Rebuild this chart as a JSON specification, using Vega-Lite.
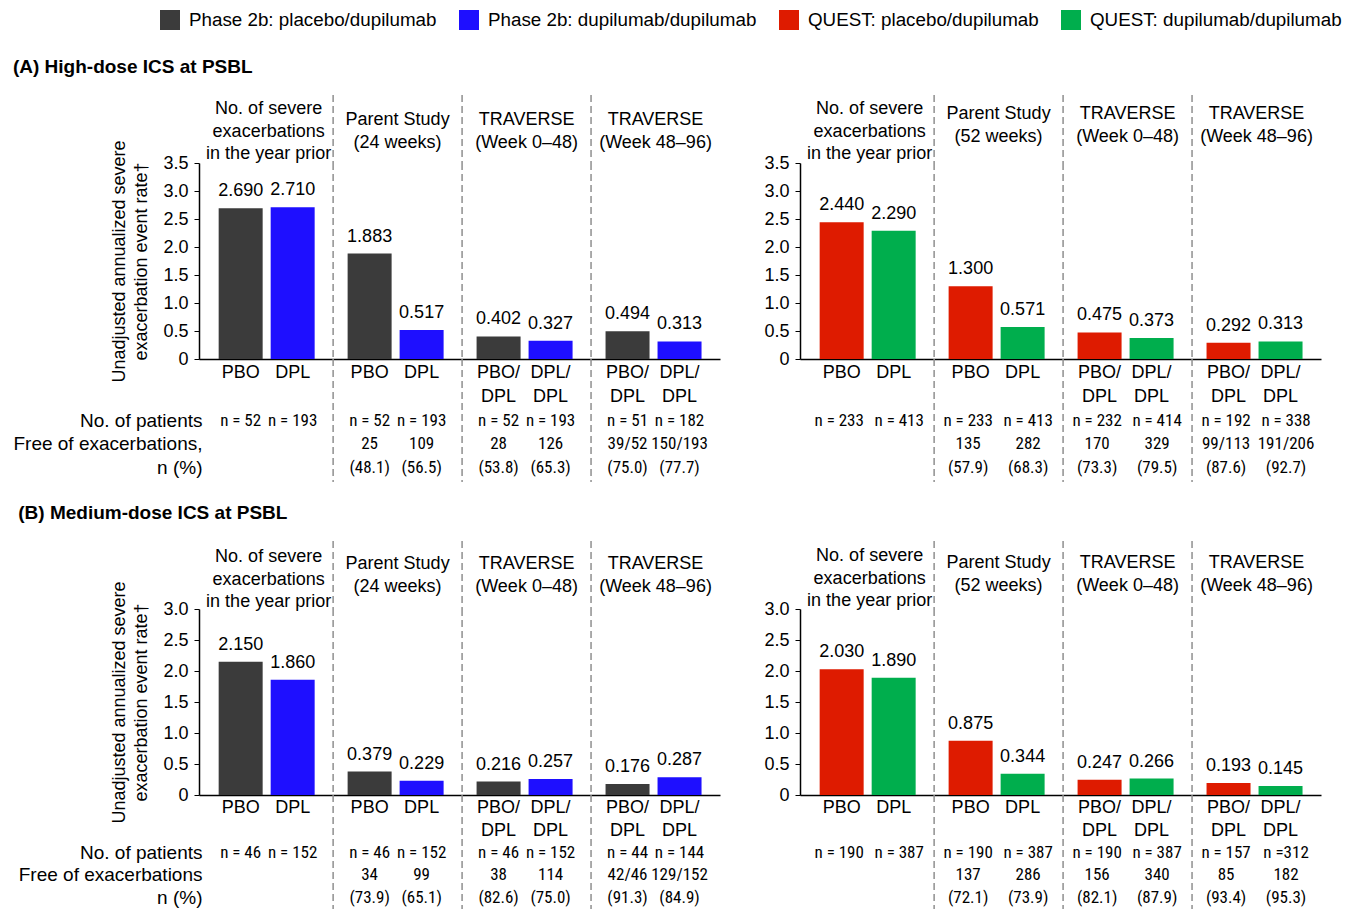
{
  "$schema": "https://vega.github.io/schema/vega-lite/v6.json",
  "background": "white",
  "padding": {"left": 12, "top": 10, "right": 5, "bottom": 0},
  "config": {
    "font": "Liberation Sans",
    "view": {"stroke": null},
    "text": {"font": "Liberation Sans", "fontSize": 18, "color": "#000"},
    "axis": {"labelFont": "Liberation Sans", "titleFont": "Liberation Sans", "labelColor": "#000", "titleColor": "#000", "grid": false, "labelOverlap": false},
    "legend": {"labelFont": "Liberation Sans", "labelColor": "#000"},
    "title": {"font": "Liberation Sans", "color": "#000"}
  },
  "datasets": {
    "rates": [
      {"section": "A", "side": "L", "series": "Phase 2b: placebo/dupilumab", "phase": "prior", "period": "No. of severe\nexacerbations\nin the year prior", "arm": "PBO", "lab1": "PBO", "lab2": "", "rate": 2.690, "nLabel": "n = 52", "freeN": "", "freePct": ""},
      {"section": "A", "side": "L", "series": "Phase 2b: dupilumab/dupilumab", "phase": "prior", "period": "No. of severe\nexacerbations\nin the year prior", "arm": "DPL", "lab1": "DPL", "lab2": "", "rate": 2.710, "nLabel": "n = 193", "freeN": "", "freePct": ""},
      {"section": "A", "side": "L", "series": "Phase 2b: placebo/dupilumab", "phase": "parent", "period": "Parent Study\n(24 weeks)", "arm": "PBO", "lab1": "PBO", "lab2": "", "rate": 1.883, "nLabel": "n = 52", "freeN": "25", "freePct": "(48.1)"},
      {"section": "A", "side": "L", "series": "Phase 2b: dupilumab/dupilumab", "phase": "parent", "period": "Parent Study\n(24 weeks)", "arm": "DPL", "lab1": "DPL", "lab2": "", "rate": 0.517, "nLabel": "n = 193", "freeN": "109", "freePct": "(56.5)"},
      {"section": "A", "side": "L", "series": "Phase 2b: placebo/dupilumab", "phase": "trav1", "period": "TRAVERSE\n(Week 0–48)", "arm": "PBO", "lab1": "PBO/", "lab2": "DPL", "rate": 0.402, "nLabel": "n = 52", "freeN": "28", "freePct": "(53.8)"},
      {"section": "A", "side": "L", "series": "Phase 2b: dupilumab/dupilumab", "phase": "trav1", "period": "TRAVERSE\n(Week 0–48)", "arm": "DPL", "lab1": "DPL/", "lab2": "DPL", "rate": 0.327, "nLabel": "n = 193", "freeN": "126", "freePct": "(65.3)"},
      {"section": "A", "side": "L", "series": "Phase 2b: placebo/dupilumab", "phase": "trav2", "period": "TRAVERSE\n(Week 48–96)", "arm": "PBO", "lab1": "PBO/", "lab2": "DPL", "rate": 0.494, "nLabel": "n = 51", "freeN": "39/52", "freePct": "(75.0)"},
      {"section": "A", "side": "L", "series": "Phase 2b: dupilumab/dupilumab", "phase": "trav2", "period": "TRAVERSE\n(Week 48–96)", "arm": "DPL", "lab1": "DPL/", "lab2": "DPL", "rate": 0.313, "nLabel": "n = 182", "freeN": "150/193", "freePct": "(77.7)"},

      {"section": "A", "side": "R", "series": "QUEST: placebo/dupilumab", "phase": "prior", "period": "No. of severe\nexacerbations\nin the year prior", "arm": "PBO", "lab1": "PBO", "lab2": "", "rate": 2.440, "nLabel": "n = 233", "freeN": "", "freePct": ""},
      {"section": "A", "side": "R", "series": "QUEST: dupilumab/dupilumab", "phase": "prior", "period": "No. of severe\nexacerbations\nin the year prior", "arm": "DPL", "lab1": "DPL", "lab2": "", "rate": 2.290, "nLabel": "n = 413", "freeN": "", "freePct": ""},
      {"section": "A", "side": "R", "series": "QUEST: placebo/dupilumab", "phase": "parent", "period": "Parent Study\n(52 weeks)", "arm": "PBO", "lab1": "PBO", "lab2": "", "rate": 1.300, "nLabel": "n = 233", "freeN": "135", "freePct": "(57.9)"},
      {"section": "A", "side": "R", "series": "QUEST: dupilumab/dupilumab", "phase": "parent", "period": "Parent Study\n(52 weeks)", "arm": "DPL", "lab1": "DPL", "lab2": "", "rate": 0.571, "nLabel": "n = 413", "freeN": "282", "freePct": "(68.3)"},
      {"section": "A", "side": "R", "series": "QUEST: placebo/dupilumab", "phase": "trav1", "period": "TRAVERSE\n(Week 0–48)", "arm": "PBO", "lab1": "PBO/", "lab2": "DPL", "rate": 0.475, "nLabel": "n = 232", "freeN": "170", "freePct": "(73.3)"},
      {"section": "A", "side": "R", "series": "QUEST: dupilumab/dupilumab", "phase": "trav1", "period": "TRAVERSE\n(Week 0–48)", "arm": "DPL", "lab1": "DPL/", "lab2": "DPL", "rate": 0.373, "nLabel": "n = 414", "freeN": "329", "freePct": "(79.5)"},
      {"section": "A", "side": "R", "series": "QUEST: placebo/dupilumab", "phase": "trav2", "period": "TRAVERSE\n(Week 48–96)", "arm": "PBO", "lab1": "PBO/", "lab2": "DPL", "rate": 0.292, "nLabel": "n = 192", "freeN": "99/113", "freePct": "(87.6)"},
      {"section": "A", "side": "R", "series": "QUEST: dupilumab/dupilumab", "phase": "trav2", "period": "TRAVERSE\n(Week 48–96)", "arm": "DPL", "lab1": "DPL/", "lab2": "DPL", "rate": 0.313, "nLabel": "n = 338", "freeN": "191/206", "freePct": "(92.7)"},

      {"section": "B", "side": "L", "series": "Phase 2b: placebo/dupilumab", "phase": "prior", "period": "No. of severe\nexacerbations\nin the year prior", "arm": "PBO", "lab1": "PBO", "lab2": "", "rate": 2.150, "nLabel": "n = 46", "freeN": "", "freePct": ""},
      {"section": "B", "side": "L", "series": "Phase 2b: dupilumab/dupilumab", "phase": "prior", "period": "No. of severe\nexacerbations\nin the year prior", "arm": "DPL", "lab1": "DPL", "lab2": "", "rate": 1.860, "nLabel": "n = 152", "freeN": "", "freePct": ""},
      {"section": "B", "side": "L", "series": "Phase 2b: placebo/dupilumab", "phase": "parent", "period": "Parent Study\n(24 weeks)", "arm": "PBO", "lab1": "PBO", "lab2": "", "rate": 0.379, "nLabel": "n = 46", "freeN": "34", "freePct": "(73.9)"},
      {"section": "B", "side": "L", "series": "Phase 2b: dupilumab/dupilumab", "phase": "parent", "period": "Parent Study\n(24 weeks)", "arm": "DPL", "lab1": "DPL", "lab2": "", "rate": 0.229, "nLabel": "n = 152", "freeN": "99", "freePct": "(65.1)"},
      {"section": "B", "side": "L", "series": "Phase 2b: placebo/dupilumab", "phase": "trav1", "period": "TRAVERSE\n(Week 0–48)", "arm": "PBO", "lab1": "PBO/", "lab2": "DPL", "rate": 0.216, "nLabel": "n = 46", "freeN": "38", "freePct": "(82.6)"},
      {"section": "B", "side": "L", "series": "Phase 2b: dupilumab/dupilumab", "phase": "trav1", "period": "TRAVERSE\n(Week 0–48)", "arm": "DPL", "lab1": "DPL/", "lab2": "DPL", "rate": 0.257, "nLabel": "n = 152", "freeN": "114", "freePct": "(75.0)"},
      {"section": "B", "side": "L", "series": "Phase 2b: placebo/dupilumab", "phase": "trav2", "period": "TRAVERSE\n(Week 48–96)", "arm": "PBO", "lab1": "PBO/", "lab2": "DPL", "rate": 0.176, "nLabel": "n = 44", "freeN": "42/46", "freePct": "(91.3)"},
      {"section": "B", "side": "L", "series": "Phase 2b: dupilumab/dupilumab", "phase": "trav2", "period": "TRAVERSE\n(Week 48–96)", "arm": "DPL", "lab1": "DPL/", "lab2": "DPL", "rate": 0.287, "nLabel": "n = 144", "freeN": "129/152", "freePct": "(84.9)"},

      {"section": "B", "side": "R", "series": "QUEST: placebo/dupilumab", "phase": "prior", "period": "No. of severe\nexacerbations\nin the year prior", "arm": "PBO", "lab1": "PBO", "lab2": "", "rate": 2.030, "nLabel": "n = 190", "freeN": "", "freePct": ""},
      {"section": "B", "side": "R", "series": "QUEST: dupilumab/dupilumab", "phase": "prior", "period": "No. of severe\nexacerbations\nin the year prior", "arm": "DPL", "lab1": "DPL", "lab2": "", "rate": 1.890, "nLabel": "n = 387", "freeN": "", "freePct": ""},
      {"section": "B", "side": "R", "series": "QUEST: placebo/dupilumab", "phase": "parent", "period": "Parent Study\n(52 weeks)", "arm": "PBO", "lab1": "PBO", "lab2": "", "rate": 0.875, "nLabel": "n = 190", "freeN": "137", "freePct": "(72.1)"},
      {"section": "B", "side": "R", "series": "QUEST: dupilumab/dupilumab", "phase": "parent", "period": "Parent Study\n(52 weeks)", "arm": "DPL", "lab1": "DPL", "lab2": "", "rate": 0.344, "nLabel": "n = 387", "freeN": "286", "freePct": "(73.9)"},
      {"section": "B", "side": "R", "series": "QUEST: placebo/dupilumab", "phase": "trav1", "period": "TRAVERSE\n(Week 0–48)", "arm": "PBO", "lab1": "PBO/", "lab2": "DPL", "rate": 0.247, "nLabel": "n = 190", "freeN": "156", "freePct": "(82.1)"},
      {"section": "B", "side": "R", "series": "QUEST: dupilumab/dupilumab", "phase": "trav1", "period": "TRAVERSE\n(Week 0–48)", "arm": "DPL", "lab1": "DPL/", "lab2": "DPL", "rate": 0.266, "nLabel": "n = 387", "freeN": "340", "freePct": "(87.9)"},
      {"section": "B", "side": "R", "series": "QUEST: placebo/dupilumab", "phase": "trav2", "period": "TRAVERSE\n(Week 48–96)", "arm": "PBO", "lab1": "PBO/", "lab2": "DPL", "rate": 0.193, "nLabel": "n = 157", "freeN": "85", "freePct": "(93.4)"},
      {"section": "B", "side": "R", "series": "QUEST: dupilumab/dupilumab", "phase": "trav2", "period": "TRAVERSE\n(Week 48–96)", "arm": "DPL", "lab1": "DPL/", "lab2": "DPL", "rate": 0.145, "nLabel": "n =312", "freeN": "182", "freePct": "(95.3)"}
    ]
  },
  "spacing": 21,
  "resolve": {"scale": {"xOffset": "independent"}},
  "vconcat": [
    {
      "title": {"text": "(A) High-dose ICS at PSBL", "anchor": "start", "fontSize": 19, "fontWeight": "bold", "offset": 17},
      "spacing": 43,
      "resolve": {"scale": {"xOffset": "independent"}},
      "hconcat": [
        {
          "bounds": "flush",
          "spacing": 0,
          "resolve": {"scale": {"xOffset": "independent"}},
          "vconcat": [
            {
              "width": 521, "height": 68,
              "data": {"name": "rates"},
              "transform": [{"filter": "datum.section == 'A' && datum.side == 'L' && datum.arm == 'PBO'"}],
              "encoding": {"x": {"field": "phase", "type": "nominal", "scale": {"type": "band", "domain": ["prior", "parent", "trav1", "trav2"], "paddingInner": 0, "paddingOuter": 0.02, "align": 1}, "axis": null}},
              "layer": [
                {"transform": [{"filter": "datum.phase != 'prior'"}],
                 "mark": {"type": "rule", "color": "#8f8f8f", "strokeWidth": 1.5, "strokeDash": [7, 4]},
                 "encoding": {"x": {"field": "phase", "type": "nominal", "bandPosition": 0, "scale": {"type": "band", "domain": ["prior", "parent", "trav1", "trav2"], "paddingInner": 0, "paddingOuter": 0.02, "align": 1}, "axis": null}}},
                {"transform": [{"filter": "datum.phase == 'prior'"}],
                 "mark": {"type": "text", "lineBreak": "\n", "lineHeight": 22.5, "baseline": "middle", "fontSize": 18, "dy": -20},
                 "encoding": {"text": {"field": "period"}}},
                {"transform": [{"filter": "datum.phase != 'prior'"}],
                 "mark": {"type": "text", "lineBreak": "\n", "lineHeight": 22.5, "baseline": "middle", "fontSize": 18, "dy": -9},
                 "encoding": {"text": {"field": "period"}}}
              ]
            },
            {
              "width": 521, "height": 196,
              "data": {"name": "rates"},
              "transform": [{"filter": "datum.section == 'A' && datum.side == 'L'"}],
              "layer": [
                {"transform": [{"filter": "datum.phase != 'prior' && datum.arm == 'PBO'"}],
                 "mark": {"type": "rule", "color": "#8f8f8f", "strokeWidth": 1.5, "strokeDash": [7, 4]},
                 "encoding": {"x": {"field": "phase", "type": "nominal", "bandPosition": 0, "scale": {"type": "band", "domain": ["prior", "parent", "trav1", "trav2"], "paddingInner": 0, "paddingOuter": 0.02, "align": 1}, "axis": {"title": null, "labels": false, "ticks": false, "domainColor": "#000", "domainWidth": 1.5}}}},
                {"mark": {"type": "bar"},
                 "encoding": {
                   "x": {"field": "phase", "type": "nominal", "scale": {"type": "band", "domain": ["prior", "parent", "trav1", "trav2"], "paddingInner": 0, "paddingOuter": 0.02, "align": 1}, "axis": {"title": null, "labels": false, "ticks": false, "domainColor": "#000", "domainWidth": 1.5}},
                   "xOffset": {"field": "arm", "type": "nominal", "scale": {"type": "band", "domain": ["PBO", "DPL"], "paddingInner": 0.154, "paddingOuter": 0.317, "align": 0.44}},
                   "y": {"field": "rate", "type": "quantitative", "scale": {"domain": [0, 3.5], "nice": false},
                         "axis": {"values": [0, 0.5, 1, 1.5, 2, 2.5, 3, 3.5], "labelOverlap": false, "labelExpr": "datum.value == 0 ? '0' : format(datum.value, '.1f')", "labelFontSize": 18, "labelPadding": 6, "tickSize": 5, "tickColor": "#000", "domainColor": "#000", "domainWidth": 1.5,
                                  "title": ["Unadjusted annualized severe", "exacerbation event rate†"], "titleFontSize": 18, "titleFontWeight": "normal", "titlePadding": 12, "titleLineHeight": 22}},
                   "color": {"field": "series", "type": "nominal",
                             "scale": {"domain": ["Phase 2b: placebo/dupilumab", "Phase 2b: dupilumab/dupilumab", "QUEST: placebo/dupilumab", "QUEST: dupilumab/dupilumab"], "range": ["#3b3b3b", "#1e0fff", "#de1b00", "#00ae4d"]},
                             "legend": {"orient": "none", "legendX": -39, "legendY": -85, "direction": "horizontal", "title": null, "symbolType": "square", "symbolSize": 400, "symbolStrokeWidth": 0, "symbolOpacity": 1, "labelFontSize": 18.8, "labelOffset": 9, "columnPadding": 22, "labelLimit": 400}}
                 }},
                {"mark": {"type": "text", "dy": -12, "baseline": "alphabetic", "fontSize": 18},
                 "encoding": {
                   "x": {"field": "phase", "type": "nominal", "scale": {"type": "band", "domain": ["prior", "parent", "trav1", "trav2"], "paddingInner": 0, "paddingOuter": 0.02, "align": 1}, "axis": {"title": null, "labels": false, "ticks": false, "domainColor": "#000", "domainWidth": 1.5}},
                   "xOffset": {"field": "arm", "type": "nominal", "scale": {"type": "band", "domain": ["PBO", "DPL"], "paddingInner": 0.154, "paddingOuter": 0.317, "align": 0.44}},
                   "y": {"field": "rate", "type": "quantitative", "scale": {"domain": [0, 3.5], "nice": false},
                         "axis": {"values": [0, 0.5, 1, 1.5, 2, 2.5, 3, 3.5], "labelOverlap": false, "labelExpr": "datum.value == 0 ? '0' : format(datum.value, '.1f')", "labelFontSize": 18, "labelPadding": 6, "tickSize": 5, "tickColor": "#000", "domainColor": "#000", "domainWidth": 1.5,
                                  "title": ["Unadjusted annualized severe", "exacerbation event rate†"], "titleFontSize": 18, "titleFontWeight": "normal", "titlePadding": 12, "titleLineHeight": 22}},
                   "text": {"field": "rate", "type": "quantitative", "format": ".3f"}
                 }}
              ]
            },
            {
              "width": 521, "height": 123,
              "data": {"name": "rates"},
              "transform": [{"filter": "datum.section == 'A' && datum.side == 'L'"}],
              "layer": [
                {"transform": [{"filter": "datum.phase != 'prior' && datum.arm == 'PBO'"}],
                 "mark": {"type": "rule", "color": "#8f8f8f", "strokeWidth": 1.5, "strokeDash": [7, 4]},
                 "encoding": {"x": {"field": "phase", "type": "nominal", "bandPosition": 0, "scale": {"type": "band", "domain": ["prior", "parent", "trav1", "trav2"], "paddingInner": 0, "paddingOuter": 0.02, "align": 1}, "axis": null}}},
                {"transform": [{"fold": ["lab1", "lab2"], "as": ["row", "text"]}],
                 "mark": {"type": "text", "fontSize": 18, "baseline": "middle"},
                 "encoding": {
                   "x": {"field": "phase", "type": "nominal", "scale": {"type": "band", "domain": ["prior", "parent", "trav1", "trav2"], "paddingInner": 0, "paddingOuter": 0.02, "align": 1}, "axis": null},
                   "xOffset": {"field": "arm", "type": "nominal", "scale": {"type": "band", "domain": ["PBO", "DPL"], "paddingInner": 0.154, "paddingOuter": 0.317, "align": 0.44}},
                   "y": {"field": "row", "type": "nominal", "scale": {"type": "band", "domain": ["lab1", "lab2", "nLabel", "freeN", "freePct"], "paddingInner": 0, "paddingOuter": 0.08},
                         "axis": {"title": null, "domain": false, "ticks": false, "labelPadding": -3, "labelLimit": 400, "labelFontSize": 19, "labelExpr": "datum.value == 'nLabel' ? 'No. of patients' : datum.value == 'freeN' ? 'Free of exacerbations,' : datum.value == 'freePct' ? 'n (%)' : ''"}},
                   "text": {"field": "text"}
                 }},
                {"transform": [{"fold": ["nLabel", "freeN", "freePct"], "as": ["row", "text"]}],
                 "mark": {"type": "text", "font": "Roboto Condensed, Liberation Sans Narrow, Arial Narrow, Liberation Sans", "fontSize": 17, "baseline": "middle"},
                 "encoding": {
                   "x": {"field": "phase", "type": "nominal", "scale": {"type": "band", "domain": ["prior", "parent", "trav1", "trav2"], "paddingInner": 0, "paddingOuter": 0.02, "align": 1}, "axis": null},
                   "xOffset": {"field": "arm", "type": "nominal", "scale": {"type": "band", "domain": ["PBO", "DPL"], "paddingInner": 0.154, "paddingOuter": 0.317, "align": 0.44}},
                   "y": {"field": "row", "type": "nominal", "scale": {"type": "band", "domain": ["lab1", "lab2", "nLabel", "freeN", "freePct"], "paddingInner": 0, "paddingOuter": 0.08},
                         "axis": {"title": null, "domain": false, "ticks": false, "labelPadding": -3, "labelLimit": 400, "labelFontSize": 19, "labelExpr": "datum.value == 'nLabel' ? 'No. of patients' : datum.value == 'freeN' ? 'Free of exacerbations,' : datum.value == 'freePct' ? 'n (%)' : ''"}},
                   "text": {"field": "text"}
                 }}
              ]
            }
          ]
        },
        {
          "bounds": "flush",
          "spacing": 0,
          "resolve": {"scale": {"xOffset": "independent"}},
          "vconcat": [
            {
              "width": 521, "height": 68,
              "data": {"name": "rates"},
              "transform": [{"filter": "datum.section == 'A' && datum.side == 'R' && datum.arm == 'PBO'"}],
              "encoding": {"x": {"field": "phase", "type": "nominal", "scale": {"type": "band", "domain": ["prior", "parent", "trav1", "trav2"], "paddingInner": 0, "paddingOuter": 0.02, "align": 1}, "axis": null}},
              "layer": [
                {"transform": [{"filter": "datum.phase != 'prior'"}],
                 "mark": {"type": "rule", "color": "#8f8f8f", "strokeWidth": 1.5, "strokeDash": [7, 4]},
                 "encoding": {"x": {"field": "phase", "type": "nominal", "bandPosition": 0, "scale": {"type": "band", "domain": ["prior", "parent", "trav1", "trav2"], "paddingInner": 0, "paddingOuter": 0.02, "align": 1}, "axis": null}}},
                {"transform": [{"filter": "datum.phase == 'prior'"}],
                 "mark": {"type": "text", "lineBreak": "\n", "lineHeight": 22.5, "baseline": "middle", "fontSize": 18, "dy": -20},
                 "encoding": {"text": {"field": "period"}}},
                {"transform": [{"filter": "datum.phase != 'prior'"}],
                 "mark": {"type": "text", "lineBreak": "\n", "lineHeight": 22.5, "baseline": "middle", "fontSize": 18, "dy": -15},
                 "encoding": {"text": {"field": "period"}}}
              ]
            },
            {
              "width": 521, "height": 196,
              "data": {"name": "rates"},
              "transform": [{"filter": "datum.section == 'A' && datum.side == 'R'"}],
              "layer": [
                {"transform": [{"filter": "datum.phase != 'prior' && datum.arm == 'PBO'"}],
                 "mark": {"type": "rule", "color": "#8f8f8f", "strokeWidth": 1.5, "strokeDash": [7, 4]},
                 "encoding": {"x": {"field": "phase", "type": "nominal", "bandPosition": 0, "scale": {"type": "band", "domain": ["prior", "parent", "trav1", "trav2"], "paddingInner": 0, "paddingOuter": 0.02, "align": 1}, "axis": {"title": null, "labels": false, "ticks": false, "domainColor": "#000", "domainWidth": 1.5}}}},
                {"mark": {"type": "bar"},
                 "encoding": {
                   "x": {"field": "phase", "type": "nominal", "scale": {"type": "band", "domain": ["prior", "parent", "trav1", "trav2"], "paddingInner": 0, "paddingOuter": 0.02, "align": 1}, "axis": {"title": null, "labels": false, "ticks": false, "domainColor": "#000", "domainWidth": 1.5}},
                   "xOffset": {"field": "arm", "type": "nominal", "scale": {"type": "band", "domain": ["PBO", "DPL"], "paddingInner": 0.154, "paddingOuter": 0.317, "align": 0.44}},
                   "y": {"field": "rate", "type": "quantitative", "scale": {"domain": [0, 3.5], "nice": false},
                         "axis": {"values": [0, 0.5, 1, 1.5, 2, 2.5, 3, 3.5], "labelOverlap": false, "labelExpr": "datum.value == 0 ? '0' : format(datum.value, '.1f')", "labelFontSize": 18, "labelPadding": 6, "tickSize": 5, "tickColor": "#000", "domainColor": "#000", "domainWidth": 1.5, "title": null}},
                   "color": {"field": "series", "type": "nominal",
                             "scale": {"domain": ["Phase 2b: placebo/dupilumab", "Phase 2b: dupilumab/dupilumab", "QUEST: placebo/dupilumab", "QUEST: dupilumab/dupilumab"], "range": ["#3b3b3b", "#1e0fff", "#de1b00", "#00ae4d"]},
                             "legend": {"orient": "none", "legendX": -39, "legendY": -85, "direction": "horizontal", "title": null, "symbolType": "square", "symbolSize": 400, "symbolStrokeWidth": 0, "symbolOpacity": 1, "labelFontSize": 18.8, "labelOffset": 9, "columnPadding": 22, "labelLimit": 400}}
                 }},
                {"mark": {"type": "text", "dy": -12, "baseline": "alphabetic", "fontSize": 18},
                 "encoding": {
                   "x": {"field": "phase", "type": "nominal", "scale": {"type": "band", "domain": ["prior", "parent", "trav1", "trav2"], "paddingInner": 0, "paddingOuter": 0.02, "align": 1}, "axis": {"title": null, "labels": false, "ticks": false, "domainColor": "#000", "domainWidth": 1.5}},
                   "xOffset": {"field": "arm", "type": "nominal", "scale": {"type": "band", "domain": ["PBO", "DPL"], "paddingInner": 0.154, "paddingOuter": 0.317, "align": 0.44}},
                   "y": {"field": "rate", "type": "quantitative", "scale": {"domain": [0, 3.5], "nice": false},
                         "axis": {"values": [0, 0.5, 1, 1.5, 2, 2.5, 3, 3.5], "labelOverlap": false, "labelExpr": "datum.value == 0 ? '0' : format(datum.value, '.1f')", "labelFontSize": 18, "labelPadding": 6, "tickSize": 5, "tickColor": "#000", "domainColor": "#000", "domainWidth": 1.5, "title": null}},
                   "text": {"field": "rate", "type": "quantitative", "format": ".3f"}
                 }}
              ]
            },
            {
              "width": 521, "height": 123,
              "data": {"name": "rates"},
              "transform": [{"filter": "datum.section == 'A' && datum.side == 'R'"}],
              "resolve": {"scale": {"xOffset": "independent"}},
              "layer": [
                {"transform": [{"filter": "datum.phase != 'prior' && datum.arm == 'PBO'"}],
                 "mark": {"type": "rule", "color": "#8f8f8f", "strokeWidth": 1.5, "strokeDash": [7, 4]},
                 "encoding": {"x": {"field": "phase", "type": "nominal", "bandPosition": 0, "scale": {"type": "band", "domain": ["prior", "parent", "trav1", "trav2"], "paddingInner": 0, "paddingOuter": 0.02, "align": 1}, "axis": null}}},
                {"transform": [{"fold": ["lab1", "lab2"], "as": ["row", "text"]}],
                 "mark": {"type": "text", "fontSize": 18, "baseline": "middle"},
                 "encoding": {
                   "x": {"field": "phase", "type": "nominal", "scale": {"type": "band", "domain": ["prior", "parent", "trav1", "trav2"], "paddingInner": 0, "paddingOuter": 0.02, "align": 1}, "axis": null},
                   "xOffset": {"field": "arm", "type": "nominal", "scale": {"type": "band", "domain": ["PBO", "DPL"], "paddingInner": 0.154, "paddingOuter": 0.317, "align": 0.44}},
                   "y": {"field": "row", "type": "nominal", "scale": {"type": "band", "domain": ["lab1", "lab2", "nLabel", "freeN", "freePct"], "paddingInner": 0, "paddingOuter": 0.08}, "axis": null},
                   "text": {"field": "text"}
                 }},
                {"transform": [{"fold": ["nLabel", "freeN", "freePct"], "as": ["row", "text"]}],
                 "mark": {"type": "text", "font": "Roboto Condensed, Liberation Sans Narrow, Arial Narrow, Liberation Sans", "fontSize": 17, "baseline": "middle"},
                 "encoding": {
                   "x": {"field": "phase", "type": "nominal", "scale": {"type": "band", "domain": ["prior", "parent", "trav1", "trav2"], "paddingInner": 0, "paddingOuter": 0.02, "align": 1}, "axis": null},
                   "xOffset": {"field": "arm", "type": "nominal", "scale": {"type": "band", "domain": ["PBO", "DPL"], "paddingInner": 0, "paddingOuter": 0.075, "align": 0.45}},
                   "y": {"field": "row", "type": "nominal", "scale": {"type": "band", "domain": ["lab1", "lab2", "nLabel", "freeN", "freePct"], "paddingInner": 0, "paddingOuter": 0.08}, "axis": null},
                   "text": {"field": "text"}
                 }}
              ]
            }
          ]
        }
      ]
    },
    {
      "title": {"text": "(B) Medium-dose ICS at PSBL", "anchor": "start", "fontSize": 19, "fontWeight": "bold", "offset": 17},
      "spacing": 43,
      "resolve": {"scale": {"xOffset": "independent"}},
      "hconcat": [
        {
          "bounds": "flush",
          "spacing": 0,
          "resolve": {"scale": {"xOffset": "independent"}},
          "vconcat": [
            {
              "width": 521, "height": 68,
              "data": {"name": "rates"},
              "transform": [{"filter": "datum.section == 'B' && datum.side == 'L' && datum.arm == 'PBO'"}],
              "encoding": {"x": {"field": "phase", "type": "nominal", "scale": {"type": "band", "domain": ["prior", "parent", "trav1", "trav2"], "paddingInner": 0, "paddingOuter": 0.02, "align": 1}, "axis": null}},
              "layer": [
                {"transform": [{"filter": "datum.phase != 'prior'"}],
                 "mark": {"type": "rule", "color": "#8f8f8f", "strokeWidth": 1.5, "strokeDash": [7, 4]},
                 "encoding": {"x": {"field": "phase", "type": "nominal", "bandPosition": 0, "scale": {"type": "band", "domain": ["prior", "parent", "trav1", "trav2"], "paddingInner": 0, "paddingOuter": 0.02, "align": 1}, "axis": null}}},
                {"transform": [{"filter": "datum.phase == 'prior'"}],
                 "mark": {"type": "text", "lineBreak": "\n", "lineHeight": 22.5, "baseline": "middle", "fontSize": 18, "dy": -18},
                 "encoding": {"text": {"field": "period"}}},
                {"transform": [{"filter": "datum.phase != 'prior'"}],
                 "mark": {"type": "text", "lineBreak": "\n", "lineHeight": 22.5, "baseline": "middle", "fontSize": 18, "dy": -11},
                 "encoding": {"text": {"field": "period"}}}
              ]
            },
            {
              "width": 521, "height": 186,
              "data": {"name": "rates"},
              "transform": [{"filter": "datum.section == 'B' && datum.side == 'L'"}],
              "layer": [
                {"transform": [{"filter": "datum.phase != 'prior' && datum.arm == 'PBO'"}],
                 "mark": {"type": "rule", "color": "#8f8f8f", "strokeWidth": 1.5, "strokeDash": [7, 4]},
                 "encoding": {"x": {"field": "phase", "type": "nominal", "bandPosition": 0, "scale": {"type": "band", "domain": ["prior", "parent", "trav1", "trav2"], "paddingInner": 0, "paddingOuter": 0.02, "align": 1}, "axis": {"title": null, "labels": false, "ticks": false, "domainColor": "#000", "domainWidth": 1.5}}}},
                {"mark": {"type": "bar"},
                 "encoding": {
                   "x": {"field": "phase", "type": "nominal", "scale": {"type": "band", "domain": ["prior", "parent", "trav1", "trav2"], "paddingInner": 0, "paddingOuter": 0.02, "align": 1}, "axis": {"title": null, "labels": false, "ticks": false, "domainColor": "#000", "domainWidth": 1.5}},
                   "xOffset": {"field": "arm", "type": "nominal", "scale": {"type": "band", "domain": ["PBO", "DPL"], "paddingInner": 0.154, "paddingOuter": 0.317, "align": 0.44}},
                   "y": {"field": "rate", "type": "quantitative", "scale": {"domain": [0, 3.0], "nice": false},
                         "axis": {"values": [0, 0.5, 1, 1.5, 2, 2.5, 3], "labelOverlap": false, "labelExpr": "datum.value == 0 ? '0' : format(datum.value, '.1f')", "labelFontSize": 18, "labelPadding": 6, "tickSize": 5, "tickColor": "#000", "domainColor": "#000", "domainWidth": 1.5,
                                  "title": ["Unadjusted annualized severe", "exacerbation event rate†"], "titleFontSize": 18, "titleFontWeight": "normal", "titlePadding": 12, "titleLineHeight": 22}},
                   "color": {"field": "series", "type": "nominal",
                             "scale": {"domain": ["Phase 2b: placebo/dupilumab", "Phase 2b: dupilumab/dupilumab", "QUEST: placebo/dupilumab", "QUEST: dupilumab/dupilumab"], "range": ["#3b3b3b", "#1e0fff", "#de1b00", "#00ae4d"]},
                             "legend": {"orient": "none", "legendX": -39, "legendY": -85, "direction": "horizontal", "title": null, "symbolType": "square", "symbolSize": 400, "symbolStrokeWidth": 0, "symbolOpacity": 1, "labelFontSize": 18.8, "labelOffset": 9, "columnPadding": 22, "labelLimit": 400}}
                 }},
                {"mark": {"type": "text", "dy": -12, "baseline": "alphabetic", "fontSize": 18},
                 "encoding": {
                   "x": {"field": "phase", "type": "nominal", "scale": {"type": "band", "domain": ["prior", "parent", "trav1", "trav2"], "paddingInner": 0, "paddingOuter": 0.02, "align": 1}, "axis": {"title": null, "labels": false, "ticks": false, "domainColor": "#000", "domainWidth": 1.5}},
                   "xOffset": {"field": "arm", "type": "nominal", "scale": {"type": "band", "domain": ["PBO", "DPL"], "paddingInner": 0.154, "paddingOuter": 0.317, "align": 0.44}},
                   "y": {"field": "rate", "type": "quantitative", "scale": {"domain": [0, 3.0], "nice": false},
                         "axis": {"values": [0, 0.5, 1, 1.5, 2, 2.5, 3], "labelOverlap": false, "labelExpr": "datum.value == 0 ? '0' : format(datum.value, '.1f')", "labelFontSize": 18, "labelPadding": 6, "tickSize": 5, "tickColor": "#000", "domainColor": "#000", "domainWidth": 1.5,
                                  "title": ["Unadjusted annualized severe", "exacerbation event rate†"], "titleFontSize": 18, "titleFontWeight": "normal", "titlePadding": 12, "titleLineHeight": 22}},
                   "text": {"field": "rate", "type": "quantitative", "format": ".3f"}
                 }}
              ]
            },
            {
              "width": 521, "height": 116,
              "data": {"name": "rates"},
              "transform": [{"filter": "datum.section == 'B' && datum.side == 'L'"}],
              "layer": [
                {"transform": [{"filter": "datum.phase != 'prior' && datum.arm == 'PBO'"}],
                 "mark": {"type": "rule", "color": "#8f8f8f", "strokeWidth": 1.5, "strokeDash": [7, 4]},
                 "encoding": {"x": {"field": "phase", "type": "nominal", "bandPosition": 0, "scale": {"type": "band", "domain": ["prior", "parent", "trav1", "trav2"], "paddingInner": 0, "paddingOuter": 0.02, "align": 1}, "axis": null}}},
                {"transform": [{"fold": ["lab1", "lab2"], "as": ["row", "text"]}],
                 "mark": {"type": "text", "fontSize": 18, "baseline": "middle"},
                 "encoding": {
                   "x": {"field": "phase", "type": "nominal", "scale": {"type": "band", "domain": ["prior", "parent", "trav1", "trav2"], "paddingInner": 0, "paddingOuter": 0.02, "align": 1}, "axis": null},
                   "xOffset": {"field": "arm", "type": "nominal", "scale": {"type": "band", "domain": ["PBO", "DPL"], "paddingInner": 0.154, "paddingOuter": 0.317, "align": 0.44}},
                   "y": {"field": "row", "type": "nominal", "scale": {"type": "band", "domain": ["lab1", "lab2", "nLabel", "freeN", "freePct"], "paddingInner": 0, "paddingOuter": 0.1},
                         "axis": {"title": null, "domain": false, "ticks": false, "labelPadding": -3, "labelLimit": 400, "labelFontSize": 19, "labelExpr": "datum.value == 'nLabel' ? 'No. of patients' : datum.value == 'freeN' ? 'Free of exacerbations' : datum.value == 'freePct' ? 'n (%)' : ''"}},
                   "text": {"field": "text"}
                 }},
                {"transform": [{"fold": ["nLabel", "freeN", "freePct"], "as": ["row", "text"]}],
                 "mark": {"type": "text", "font": "Roboto Condensed, Liberation Sans Narrow, Arial Narrow, Liberation Sans", "fontSize": 17, "baseline": "middle"},
                 "encoding": {
                   "x": {"field": "phase", "type": "nominal", "scale": {"type": "band", "domain": ["prior", "parent", "trav1", "trav2"], "paddingInner": 0, "paddingOuter": 0.02, "align": 1}, "axis": null},
                   "xOffset": {"field": "arm", "type": "nominal", "scale": {"type": "band", "domain": ["PBO", "DPL"], "paddingInner": 0.154, "paddingOuter": 0.317, "align": 0.44}},
                   "y": {"field": "row", "type": "nominal", "scale": {"type": "band", "domain": ["lab1", "lab2", "nLabel", "freeN", "freePct"], "paddingInner": 0, "paddingOuter": 0.1},
                         "axis": {"title": null, "domain": false, "ticks": false, "labelPadding": -3, "labelLimit": 400, "labelFontSize": 19, "labelExpr": "datum.value == 'nLabel' ? 'No. of patients' : datum.value == 'freeN' ? 'Free of exacerbations' : datum.value == 'freePct' ? 'n (%)' : ''"}},
                   "text": {"field": "text"}
                 }}
              ]
            }
          ]
        },
        {
          "bounds": "flush",
          "spacing": 0,
          "resolve": {"scale": {"xOffset": "independent"}},
          "vconcat": [
            {
              "width": 521, "height": 68,
              "data": {"name": "rates"},
              "transform": [{"filter": "datum.section == 'B' && datum.side == 'R' && datum.arm == 'PBO'"}],
              "encoding": {"x": {"field": "phase", "type": "nominal", "scale": {"type": "band", "domain": ["prior", "parent", "trav1", "trav2"], "paddingInner": 0, "paddingOuter": 0.02, "align": 1}, "axis": null}},
              "layer": [
                {"transform": [{"filter": "datum.phase != 'prior'"}],
                 "mark": {"type": "rule", "color": "#8f8f8f", "strokeWidth": 1.5, "strokeDash": [7, 4]},
                 "encoding": {"x": {"field": "phase", "type": "nominal", "bandPosition": 0, "scale": {"type": "band", "domain": ["prior", "parent", "trav1", "trav2"], "paddingInner": 0, "paddingOuter": 0.02, "align": 1}, "axis": null}}},
                {"transform": [{"filter": "datum.phase == 'prior'"}],
                 "mark": {"type": "text", "lineBreak": "\n", "lineHeight": 22.5, "baseline": "middle", "fontSize": 18, "dy": -19},
                 "encoding": {"text": {"field": "period"}}},
                {"transform": [{"filter": "datum.phase != 'prior'"}],
                 "mark": {"type": "text", "lineBreak": "\n", "lineHeight": 22.5, "baseline": "middle", "fontSize": 18, "dy": -12},
                 "encoding": {"text": {"field": "period"}}}
              ]
            },
            {
              "width": 521, "height": 186,
              "data": {"name": "rates"},
              "transform": [{"filter": "datum.section == 'B' && datum.side == 'R'"}],
              "layer": [
                {"transform": [{"filter": "datum.phase != 'prior' && datum.arm == 'PBO'"}],
                 "mark": {"type": "rule", "color": "#8f8f8f", "strokeWidth": 1.5, "strokeDash": [7, 4]},
                 "encoding": {"x": {"field": "phase", "type": "nominal", "bandPosition": 0, "scale": {"type": "band", "domain": ["prior", "parent", "trav1", "trav2"], "paddingInner": 0, "paddingOuter": 0.02, "align": 1}, "axis": {"title": null, "labels": false, "ticks": false, "domainColor": "#000", "domainWidth": 1.5}}}},
                {"mark": {"type": "bar"},
                 "encoding": {
                   "x": {"field": "phase", "type": "nominal", "scale": {"type": "band", "domain": ["prior", "parent", "trav1", "trav2"], "paddingInner": 0, "paddingOuter": 0.02, "align": 1}, "axis": {"title": null, "labels": false, "ticks": false, "domainColor": "#000", "domainWidth": 1.5}},
                   "xOffset": {"field": "arm", "type": "nominal", "scale": {"type": "band", "domain": ["PBO", "DPL"], "paddingInner": 0.154, "paddingOuter": 0.317, "align": 0.44}},
                   "y": {"field": "rate", "type": "quantitative", "scale": {"domain": [0, 3.0], "nice": false},
                         "axis": {"values": [0, 0.5, 1, 1.5, 2, 2.5, 3], "labelOverlap": false, "labelExpr": "datum.value == 0 ? '0' : format(datum.value, '.1f')", "labelFontSize": 18, "labelPadding": 6, "tickSize": 5, "tickColor": "#000", "domainColor": "#000", "domainWidth": 1.5, "title": null}},
                   "color": {"field": "series", "type": "nominal",
                             "scale": {"domain": ["Phase 2b: placebo/dupilumab", "Phase 2b: dupilumab/dupilumab", "QUEST: placebo/dupilumab", "QUEST: dupilumab/dupilumab"], "range": ["#3b3b3b", "#1e0fff", "#de1b00", "#00ae4d"]},
                             "legend": {"orient": "none", "legendX": -39, "legendY": -85, "direction": "horizontal", "title": null, "symbolType": "square", "symbolSize": 400, "symbolStrokeWidth": 0, "symbolOpacity": 1, "labelFontSize": 18.8, "labelOffset": 9, "columnPadding": 22, "labelLimit": 400}}
                 }},
                {"mark": {"type": "text", "dy": -12, "baseline": "alphabetic", "fontSize": 18},
                 "encoding": {
                   "x": {"field": "phase", "type": "nominal", "scale": {"type": "band", "domain": ["prior", "parent", "trav1", "trav2"], "paddingInner": 0, "paddingOuter": 0.02, "align": 1}, "axis": {"title": null, "labels": false, "ticks": false, "domainColor": "#000", "domainWidth": 1.5}},
                   "xOffset": {"field": "arm", "type": "nominal", "scale": {"type": "band", "domain": ["PBO", "DPL"], "paddingInner": 0.154, "paddingOuter": 0.317, "align": 0.44}},
                   "y": {"field": "rate", "type": "quantitative", "scale": {"domain": [0, 3.0], "nice": false},
                         "axis": {"values": [0, 0.5, 1, 1.5, 2, 2.5, 3], "labelOverlap": false, "labelExpr": "datum.value == 0 ? '0' : format(datum.value, '.1f')", "labelFontSize": 18, "labelPadding": 6, "tickSize": 5, "tickColor": "#000", "domainColor": "#000", "domainWidth": 1.5, "title": null}},
                   "text": {"field": "rate", "type": "quantitative", "format": ".3f"}
                 }}
              ]
            },
            {
              "width": 521, "height": 116,
              "data": {"name": "rates"},
              "transform": [{"filter": "datum.section == 'B' && datum.side == 'R'"}],
              "resolve": {"scale": {"xOffset": "independent"}},
              "layer": [
                {"transform": [{"filter": "datum.phase != 'prior' && datum.arm == 'PBO'"}],
                 "mark": {"type": "rule", "color": "#8f8f8f", "strokeWidth": 1.5, "strokeDash": [7, 4]},
                 "encoding": {"x": {"field": "phase", "type": "nominal", "bandPosition": 0, "scale": {"type": "band", "domain": ["prior", "parent", "trav1", "trav2"], "paddingInner": 0, "paddingOuter": 0.02, "align": 1}, "axis": null}}},
                {"transform": [{"fold": ["lab1", "lab2"], "as": ["row", "text"]}],
                 "mark": {"type": "text", "fontSize": 18, "baseline": "middle"},
                 "encoding": {
                   "x": {"field": "phase", "type": "nominal", "scale": {"type": "band", "domain": ["prior", "parent", "trav1", "trav2"], "paddingInner": 0, "paddingOuter": 0.02, "align": 1}, "axis": null},
                   "xOffset": {"field": "arm", "type": "nominal", "scale": {"type": "band", "domain": ["PBO", "DPL"], "paddingInner": 0.154, "paddingOuter": 0.317, "align": 0.44}},
                   "y": {"field": "row", "type": "nominal", "scale": {"type": "band", "domain": ["lab1", "lab2", "nLabel", "freeN", "freePct"], "paddingInner": 0, "paddingOuter": 0.1}, "axis": null},
                   "text": {"field": "text"}
                 }},
                {"transform": [{"fold": ["nLabel", "freeN", "freePct"], "as": ["row", "text"]}],
                 "mark": {"type": "text", "font": "Roboto Condensed, Liberation Sans Narrow, Arial Narrow, Liberation Sans", "fontSize": 17, "baseline": "middle"},
                 "encoding": {
                   "x": {"field": "phase", "type": "nominal", "scale": {"type": "band", "domain": ["prior", "parent", "trav1", "trav2"], "paddingInner": 0, "paddingOuter": 0.02, "align": 1}, "axis": null},
                   "xOffset": {"field": "arm", "type": "nominal", "scale": {"type": "band", "domain": ["PBO", "DPL"], "paddingInner": 0, "paddingOuter": 0.075, "align": 0.45}},
                   "y": {"field": "row", "type": "nominal", "scale": {"type": "band", "domain": ["lab1", "lab2", "nLabel", "freeN", "freePct"], "paddingInner": 0, "paddingOuter": 0.1}, "axis": null},
                   "text": {"field": "text"}
                 }}
              ]
            }
          ]
        }
      ]
    }
  ]
}
